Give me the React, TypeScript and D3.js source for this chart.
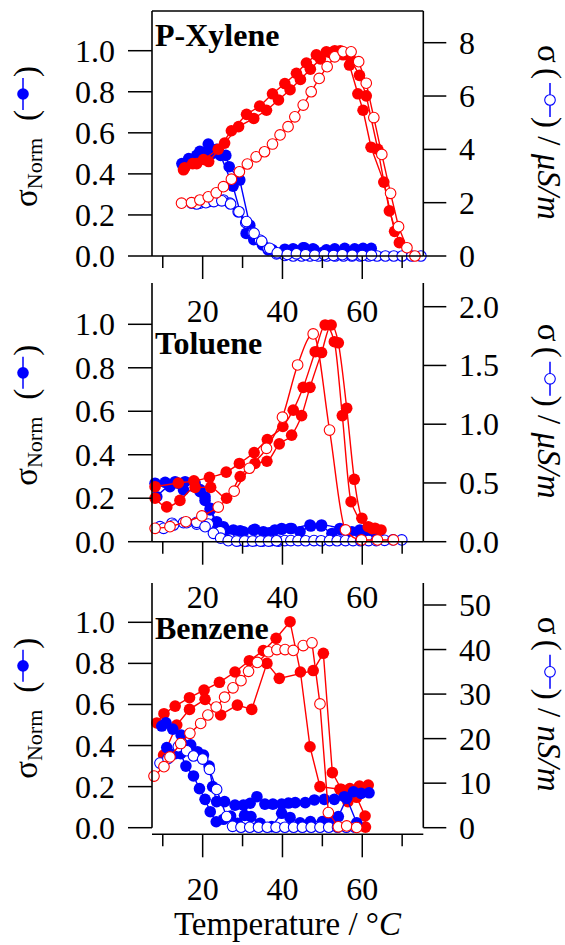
import React from 'react';
import * as d3 from 'd3';

type Pt = [number, number];

// ---------- tick values ----------
const xMajorTicks = [20, 40, 60];
const xMinorTicks = [10, 30, 50, 70];
const leftTicks = [0, 0.2, 0.4, 0.6, 0.8, 1.0];
const pxRightTicks = [0, 2, 4, 6, 8];
const tlRightTicks = [0, 0.5, 1.0, 1.5, 2.0];
const bzRightTicks = [0, 10, 20, 30, 40, 50];

// ---------- P-Xylene (T °C, value) ----------
const pxRedFilledA: Pt[] = [[15.2,0.42],[17.5,0.45],[20.2,0.47],[23.9,0.52],[27.2,0.61],[31,0.69],[34.3,0.73],[37.5,0.79],[40.6,0.84],[43.5,0.89],[46,0.94],[48.5,0.98],[51,0.995],[53.1,1.0],[55.2,0.98],[56.8,0.93],[58.9,0.79],[60.2,0.71],[62.2,0.53],[65.4,0.36],[68.1,0.12]];
const pxRedFilledB: Pt[] = [[15.5,0.43],[18.5,0.45],[21.5,0.46],[25.5,0.55],[29,0.63],[32.8,0.67],[36,0.71],[39,0.76],[41.9,0.81],[44.5,0.86],[47,0.91],[49.5,0.96],[52,0.99],[54.5,1.0],[57.3,0.95],[59.3,0.88],[61,0.78],[63.9,0.52],[66.8,0.22],[69.3,0.065]];
const pxRedOpen: Pt[] = [[14.7,1.98],[17.2,2.0],[19.3,2.1],[21.4,2.22],[23.4,2.37],[25.2,2.6],[27.2,2.88],[29.2,3.16],[31.2,3.45],[33.4,3.72],[35.5,3.91],[37.5,4.2],[39.4,4.54],[41.4,4.85],[43.1,5.22],[45.2,5.66],[47.2,6.16],[49.2,6.66],[51.2,7.1],[53.1,7.47],[55.2,7.66],[57.2,7.66],[59.1,7.29],[61,6.48],[62.9,5.19],[64.9,3.81],[67.1,2.35],[69.1,1.1],[71.2,0.31],[73.2,0.0]];
const pxBlueFilledA: Pt[] = [[15.15,0.435],[16.8,0.47],[19.3,0.51],[21.4,0.545],[23.5,0.52],[25.8,0.49],[26.65,0.435],[29.3,0.37],[31.8,0.15],[34.75,0.07],[36.4,0.03],[40.15,0.02],[42.65,0.035],[45.15,0.04],[47.65,0.035],[50.15,0.018],[53.1,0.035],[55.6,0.037],[58.1,0.035],[60.2,0.037],[62.25,0.037]];
const pxBlueFilledB: Pt[] = [[14.8,0.45],[16.5,0.475],[18.5,0.49],[20.5,0.5],[22.5,0.5],[24.5,0.49],[27.6,0.34],[30.9,0.11],[32.8,0.08],[35,0.054],[37.5,0.03],[40.6,0.033],[43,0.03],[45.5,0.04],[48,0.03],[51,0.03]];
const pxBlueOpenA: Pt[] = [[17.2,1.98],[19.3,1.98],[21.4,2.04],[23.5,2.1],[25.2,2.1],[26.8,1.98],[28.9,1.66],[30.8,1.25],[32.6,0.87],[34.3,0.6],[36.4,0.29],[38.5,0.08],[40.6,0.02],[42.7,0],[44.8,0],[46.9,0],[49,0],[51.1,0],[53.2,0],[55.3,0],[57.4,0],[59.5,0],[61.6,0],[63.7,0],[65.8,0],[67.9,0],[70,0],[72.4,0],[74.7,0]];
const pxBlueOpenB: Pt[] = [[18.5,1.95],[20.8,2.0],[22.8,2.04],[24.8,2.07],[27,1.95],[29.1,1.66],[31,1.29],[32.9,0.85],[34.8,0.55],[36.8,0.29],[38.7,0.12],[41.2,0.06],[43.5,0.08],[45.8,0.05],[48.1,0.03],[50.5,0.05],[52.8,0.02],[55,0.05],[57.5,0.03],[60,0.02],[62.3,0.03]];

// ---------- Toluene ----------
const tlRedFilledA: Pt[] = [[8.07,0.253],[13.9,0.27],[17.8,0.28],[21.7,0.296],[25.9,0.32],[29.2,0.36],[32.9,0.41],[36.2,0.47],[40.1,0.53],[42.7,0.605],[45.2,0.71],[48.2,0.874],[50.7,0.997],[53.0,0.92],[55.0,0.58],[57.2,0.184],[61.5,0.069],[63.2,0.062]];
const tlRedFilledB: Pt[] = [[8.07,0.2],[11.0,0.16],[14.3,0.19],[18.1,0.25],[22.0,0.25],[26.0,0.2],[29.4,0.3],[33.1,0.36],[36.1,0.37],[39.2,0.45],[42.3,0.49],[44.8,0.58],[46.9,0.71],[49.8,0.87],[52.2,0.997],[54.0,0.915],[56.1,0.614],[58.0,0.287],[59.9,0.108],[62.5,0.06],[64.7,0.054]];
const tlRedOpen: Pt[] = [[8.07,0.114],[11.8,0.128],[15.8,0.17],[19.8,0.219],[23.9,0.295],[27.9,0.43],[31.7,0.625],[36.0,0.795],[40.0,1.06],[43.8,1.504],[47.7,1.768],[51.8,0.95],[55.8,0.1],[59.8,0.015],[63.8,0.015],[67.8,0.015]];
const tlBlueFilledA: Pt[] = [[8.07,0.269],[10.6,0.273],[13.1,0.276],[15.6,0.276],[18.1,0.27],[19.35,0.24],[20.6,0.207],[21.9,0.154],[23.5,0.092],[25.2,0.069],[27.7,0.054],[30.2,0.046],[32.7,0.054],[35.2,0.046],[38.1,0.054],[39.8,0.057],[41.9,0.061],[44.4,0.046],[47.1,0.072],[49.7,0.072],[52.4,0.038],[54.7,0.054],[57.4,0.046],[59.4,0.054],[61.9,0.038]];
const tlBlueFilledB: Pt[] = [[8.5,0.207],[11.8,0.253],[15.2,0.238],[19.35,0.23],[20.6,0.19],[21.9,0.146],[23.9,0.069],[26.0,0.05],[29.4,0.05],[33.1,0.057],[36.7,0.041],[39.8,0.061],[42.3,0.061],[46.9,0.077],[49.8,0.077],[54.4,0.061],[57.4,0.04],[60,0.035],[62.5,0.03]];
const tlBlueOpenA: Pt[] = [[9.3,0.128],[12.3,0.157],[15.2,0.162],[18.5,0.15],[21.4,0.15],[24.4,0.085],[26.9,0.02],[28.9,0.008],[31,0.005],[33,0.008],[35,0.005],[37,0.008],[39,0.005],[40.6,0.01],[42.1,0.01],[43.9,0.01],[45.8,0.008],[47.9,0.01],[49.7,0.008],[51.8,0.01],[53.7,0.008],[55.8,0.01],[57.7,0.01],[59.6,0.008],[61.6,0.01],[63.5,0.01],[65.6,0.012],[67.7,0.015],[69.9,0.015]];
const tlBlueOpenB: Pt[] = [[10.2,0.114],[12.7,0.142],[16,0.162],[18.5,0.165],[20.6,0.128],[22.7,0.071],[24.5,0.03],[26.4,0.009],[28.5,0.005],[30.5,0.005],[32.5,0.005],[34.5,0.005],[36.5,0.005],[38.5,0.008]];

// ---------- Benzene ----------
const bzRedFilledA: Pt[] = [[8.5,0.51],[10.3,0.555],[13.1,0.592],[16.7,0.633],[20.35,0.67],[24.2,0.708],[28.1,0.758],[31.7,0.813],[35.2,0.862],[38.4,0.922],[41.9,1.003],[44.5,0.758],[46.9,0.394],[49.4,0.2],[54.4,0.187],[56.9,0.19],[59.3,0.203],[61.5,0.208]];
const bzRedFilledB: Pt[] = [[10.2,0.354],[13.5,0.5],[16.7,0.576],[20.6,0.625],[24.5,0.549],[28.7,0.597],[32.3,0.576],[36.1,0.8],[39.2,0.727],[47.7,0.765],[50.25,0.849],[52.5,0.268],[54.75,0.187],[56.4,0.127],[58.6,0.148],[60.7,0.057],[60.8,0.003]];
const bzRedOpen: Pt[] = [[7.8,11.6],[10.3,13.7],[11.8,15.9],[14.5,18.9],[16.8,21.2],[19.5,23.4],[21.3,25.3],[23.4,27.1],[25.5,29.3],[27.6,31.4],[29.6,33],[31.5,35.1],[33.7,37.1],[36.5,39.5],[38.6,40],[40.65,40],[42.7,39.8],[45.2,40.9],[47.4,41.5],[49.4,27.8],[51.5,3.4],[54,0.2],[56.1,0.4],[58.6,0.05]];
const bzBlueFilledA: Pt[] = [[9.75,0.495],[10.8,0.511],[12.5,0.48],[14.6,0.451],[17,0.403],[18.7,0.37],[20.2,0.354],[21.6,0.3],[22.5,0.2],[23.5,0.127],[25.5,0.127],[28.1,0.11],[30.2,0.11],[31.9,0.119],[33.6,0.151],[35.6,0.115],[37.6,0.115],[39.8,0.115],[41.5,0.12],[43.2,0.122],[45.7,0.122],[48,0.135],[50.5,0.138],[53,0.138],[55.5,0.151],[57.8,0.175],[59.7,0.167],[61.7,0.17]];
const bzBlueFilledB: Pt[] = [[11,0.39],[13.1,0.36],[14.5,0.36],[15.8,0.3],[17.7,0.252],[19.2,0.19],[20.6,0.138],[21.9,0.078],[23.4,0.029],[25.2,0.041],[27,0.057],[28.7,0.021],[30.5,0.06],[32.1,0.054],[34.4,0.021],[37.3,0.005],[39.8,0.07],[41.9,0.05],[44.4,0.024],[47,0.03],[50,0.03],[52.5,0.04],[54,0.054],[56.1,0.143],[58.6,0.024]];
const bzBlueOpenA: Pt[] = [[9.3,14.5],[11.3,15.5],[13.9,18.2],[16,17.3],[17.7,16.1],[20,15.4],[21.7,13.1],[23.5,8.6],[26,2.5],[27.5,0.3],[29.6,0.1],[31.8,0.1],[34,0.1],[36.2,0.1],[38.4,0.1],[40.6,0.1],[42.8,0.1],[45,0.1],[47.2,0.1],[49.4,0.1],[51.6,0.1],[53.8,0.1],[56,0.1],[58.2,0.1]];

const RED = '#ff0000';
const BLUE = '#0000ff';
const FONT = "'Liberation Serif', 'Times New Roman', Times, serif";

type Series = { data: Pt[]; axis: 'L' | 'R'; color: string; open: boolean };

type Panel = {
  name: string; nameY: number;
  top: number; y0: number; leftOnePx: number;
  rightRef: number; rightRefPx: number; axisY: number; box: boolean;
  rightTicks: number[]; rightFmt: (d: number) => string; unit: string;
  smooth: boolean; series: Series[];
};

const fmt1 = d3.format('.1f');
const fmtInt = d3.format('d');

const panels: Panel[] = [
  {
    name: 'P-Xylene', nameY: 46, top: 11, y0: 256, leftOnePx: 50.7,
    rightRef: 8, rightRefPx: 42.7, axisY: 256, box: true,
    rightTicks: pxRightTicks, rightFmt: fmtInt, unit: 'μS/m', smooth: false,
    series: [
      { data: pxBlueFilledA, axis: 'L', color: BLUE, open: false },
      { data: pxBlueFilledB, axis: 'L', color: BLUE, open: false },
      { data: pxRedFilledA, axis: 'L', color: RED, open: false },
      { data: pxRedFilledB, axis: 'L', color: RED, open: false },
      { data: pxBlueOpenA, axis: 'R', color: BLUE, open: true },
      { data: pxBlueOpenB, axis: 'R', color: BLUE, open: true },
      { data: pxRedOpen, axis: 'R', color: RED, open: true },
    ],
  },
  {
    name: 'Toluene', nameY: 354, top: 283, y0: 541.7, leftOnePx: 324.3,
    rightRef: 2, rightRefPx: 306.7, axisY: 541.7, box: false,
    rightTicks: tlRightTicks, rightFmt: fmt1, unit: 'μS/m', smooth: true,
    series: [
      { data: tlBlueFilledA, axis: 'L', color: BLUE, open: false },
      { data: tlBlueFilledB, axis: 'L', color: BLUE, open: false },
      { data: tlRedFilledA, axis: 'L', color: RED, open: false },
      { data: tlRedFilledB, axis: 'L', color: RED, open: false },
      { data: tlBlueOpenA, axis: 'R', color: BLUE, open: true },
      { data: tlBlueOpenB, axis: 'R', color: BLUE, open: true },
      { data: tlRedOpen, axis: 'R', color: RED, open: true },
    ],
  },
  {
    name: 'Benzene', nameY: 639, top: 583, y0: 827.7, leftOnePx: 622.3,
    rightRef: 50, rightRefPx: 605, axisY: 834.3, box: false,
    rightTicks: bzRightTicks, rightFmt: fmtInt, unit: 'nS/m', smooth: false,
    series: [
      { data: bzRedFilledA, axis: 'L', color: RED, open: false },
      { data: bzRedFilledB, axis: 'L', color: RED, open: false },
      { data: bzBlueFilledA, axis: 'L', color: BLUE, open: false },
      { data: bzBlueFilledB, axis: 'L', color: BLUE, open: false },
      { data: bzBlueOpenA, axis: 'R', color: BLUE, open: true },
      { data: bzRedOpen, axis: 'R', color: RED, open: true },
    ],
  },
];

const PL = 152;
const PR = 423.3;
const RF = 5.8;
const RO = 5.3;

function PanelView({ p, x }: { p: Panel; x: d3.ScaleLinear<number, number> }) {
  const yL = d3.scaleLinear().domain([0, 1]).range([p.y0, p.leftOnePx]);
  const yR = d3.scaleLinear().domain([0, p.rightRef]).range([p.y0, p.rightRefPx]);
  const curve = p.smooth ? d3.curveMonotoneX : d3.curveLinear;
  const center = (p.top + p.y0) / 2;
  const lStart = center + 73.5;
  const rStart = center - 88.5;
  const axisW = 1.6;
  return (
    <g>
      {p.series.map((s, i) => {
        const ys = s.axis === 'L' ? yL : yR;
        const line = d3.line<Pt>().x(d => x(d[0])).y(d => ys(d[1])).curve(curve);
        return (
          <g key={i}>
            <path d={line(s.data) || ''} fill="none" stroke={s.color} strokeWidth={1.4} />
            {s.data.map((d, j) => (
              <circle key={j} cx={x(d[0])} cy={ys(d[1])} r={s.open ? RO : RF}
                fill={s.open ? '#ffffff' : s.color}
                stroke={s.color} strokeWidth={s.open ? 1.1 : 0} />
            ))}
          </g>
        );
      })}
      <line x1={PL} x2={PL} y1={p.top} y2={p.y0} stroke="#000" strokeWidth={axisW} />
      <line x1={PR} x2={PR} y1={p.top} y2={p.y0} stroke="#000" strokeWidth={axisW} />
      <line x1={PL} x2={PR} y1={p.axisY} y2={p.axisY} stroke="#000" strokeWidth={axisW} />
      {p.box && <line x1={PL} x2={PR} y1={p.top} y2={p.top} stroke="#000" strokeWidth={axisW} />}
      {leftTicks.map(t => (
        <g key={'l' + t}>
          <line x1={PL - 24} x2={PL} y1={yL(t)} y2={yL(t)} stroke="#000" strokeWidth={1.5} />
          <text x={115} y={yL(t) + 11} textAnchor="end" fontSize={32} fontFamily={FONT}>{fmt1(t)}</text>
        </g>
      ))}
      {p.rightTicks.map(t => (
        <g key={'r' + t}>
          <line x1={PR} x2={PR + 23} y1={yR(t)} y2={yR(t)} stroke="#000" strokeWidth={1.5} />
          <text x={459} y={yR(t) + 11} textAnchor="start" fontSize={32} fontFamily={FONT}>{p.rightFmt(t)}</text>
        </g>
      ))}
      {xMajorTicks.map(t => (
        <g key={'xm' + t}>
          <line x1={x(t)} x2={x(t)} y1={p.axisY} y2={p.axisY + 23} stroke="#000" strokeWidth={1.5} />
          <text x={x(t)} y={p.axisY + 66} textAnchor="middle" fontSize={32} fontFamily={FONT}>{t}</text>
        </g>
      ))}
      {xMinorTicks.map(t => (
        <line key={'xn' + t} x1={x(t)} x2={x(t)} y1={p.axisY} y2={p.axisY + 12} stroke="#000" strokeWidth={1.5} />
      ))}
      <text x={155} y={p.nameY} fontSize={32} fontWeight="bold" fontFamily={FONT}>{p.name}</text>
      <g transform={`translate(37,${lStart}) rotate(-90)`} fontFamily={FONT}>
        <text x={0} y={0} fontSize={33}>σ<tspan fontSize={22} dy={5}>Norm</tspan></text>
        <text x={86} y={0} fontSize={33}>(</text>
        <line x1={97} x2={129} y1={-14} y2={-14} stroke={BLUE} strokeWidth={1.5} />
        <circle cx={113} cy={-14} r={RF} fill={BLUE} />
        <text x={130} y={0} fontSize={33}>)</text>
      </g>
      <g transform={`translate(538,${rStart}) rotate(90)`} fontFamily={FONT}>
        <text x={0} y={0} fontSize={33}>σ</text>
        <text x={23} y={0} fontSize={33}>(</text>
        <line x1={38} x2={72} y1={-12} y2={-12} stroke={BLUE} strokeWidth={1.5} />
        <circle cx={55} cy={-12} r={RO} fill="#fff" stroke={BLUE} strokeWidth={1.1} />
        <text x={72} y={0} fontSize={33}>) / <tspan fontStyle="italic">{p.unit}</tspan></text>
      </g>
    </g>
  );
}

export default function App() {
  const x = d3.scaleLinear().domain([7.3, 75.3]).range([PL, PR]);
  return (
    <svg width={565} height={945} style={{ position: 'absolute', left: 0, top: 0, background: '#fff' }}>
      <rect x={0} y={0} width={565} height={945} fill="#fff" />
      {panels.map((p, i) => <PanelView key={i} p={p} x={x} />)}
      <text x={287.5} y={935} textAnchor="middle" fontSize={33} fontFamily={FONT}>
        Temperature / °<tspan fontStyle="italic">C</tspan>
      </text>
    </svg>
  );
}
